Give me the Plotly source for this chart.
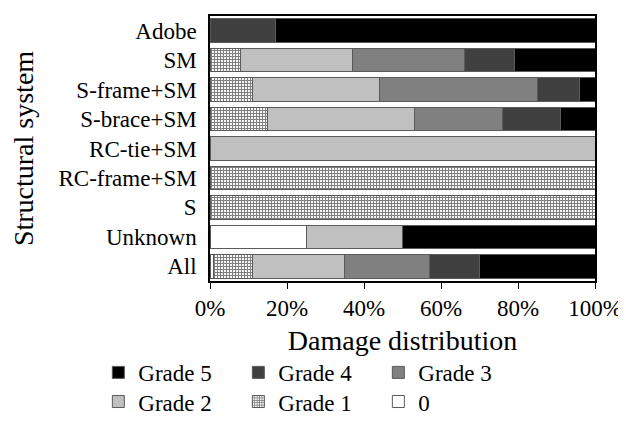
import plotly.graph_objects as go

categories = ["Adobe", "SM", "S-frame+SM", "S-brace+SM", "RC-tie+SM",
              "RC-frame+SM", "S", "Unknown", "All"]
grade0 = [0, 0, 0, 0, 0, 0, 0, 25, 1]
grade1 = [0, 8, 11, 15, 0, 100, 100, 0, 10]
grade2 = [0, 29, 33, 38, 100, 0, 0, 25, 24]
grade3 = [0, 29, 41, 23, 0, 0, 0, 0, 22]
grade4 = [17, 13, 11, 15, 0, 0, 0, 0, 13]
grade5 = [83, 21, 4, 9, 0, 0, 0, 50, 30]
x_ticks = [0, 20, 40, 60, 80, 100]
x_tick_labels = ["0%", "20%", "40%", "60%", "80%", "100%"]

FONT = "Liberation Serif"
series = [
    ("0", grade0, "#ffffff", None, "legend2"),
    ("Grade 1", grade1, "#ffffff", "+", "legend2"),
    ("Grade 2", grade2, "#c0c0c0", None, "legend2"),
    ("Grade 3", grade3, "#808080", None, "legend"),
    ("Grade 4", grade4, "#404040", None, "legend"),
    ("Grade 5", grade5, "#000000", None, "legend"),
]

fig = go.Figure()
for name, vals, color, pat, leg in series:
    marker = dict(color=color, line=dict(color="#5a5a5a", width=1))
    if pat:
        marker["pattern"] = dict(shape=pat, size=3, solidity=0.6,
                                 fgcolor="#000000", bgcolor="#ffffff")
    fig.add_trace(go.Bar(y=categories, x=vals, name=name, orientation="h",
                         marker=marker, legend=leg))

fig.update_layout(
    barmode="stack",
    bargap=0.2,
    width=626, height=421,
    margin=dict(l=202, r=39, t=6, b=138),
    plot_bgcolor="white", paper_bgcolor="white",
    font=dict(family=FONT, size=23, color="black"),
    xaxis=dict(range=[0, 100], tickvals=x_ticks, ticktext=x_tick_labels,
               showgrid=False, zeroline=False, showline=True, mirror=True,
               linecolor="black", linewidth=1.5, ticks="outside", ticklen=6,
               tickcolor="black",
               title=dict(text="Damage distribution", standoff=10)),
    yaxis=dict(categoryorder="array", categoryarray=categories[::-1],
               showgrid=False, zeroline=False, showline=True, mirror=True,
               linecolor="black", linewidth=1.5, ticks="", ticklabelstandoff=7,
               title=dict(text="Structural system", standoff=18)),
    legend=dict(orientation="h", x=-0.29, y=-0.345, xanchor="left",
                yanchor="middle", traceorder="reversed", entrywidth=95,
                bgcolor="rgba(0,0,0,0)",
                font=dict(family=FONT, size=23)),
    legend2=dict(orientation="h", x=-0.29, y=-0.455, xanchor="left",
                 yanchor="middle", traceorder="reversed", entrywidth=95,
                 bgcolor="rgba(0,0,0,0)",
                 font=dict(family=FONT, size=23)),
)

fig.write_html("out.html")
